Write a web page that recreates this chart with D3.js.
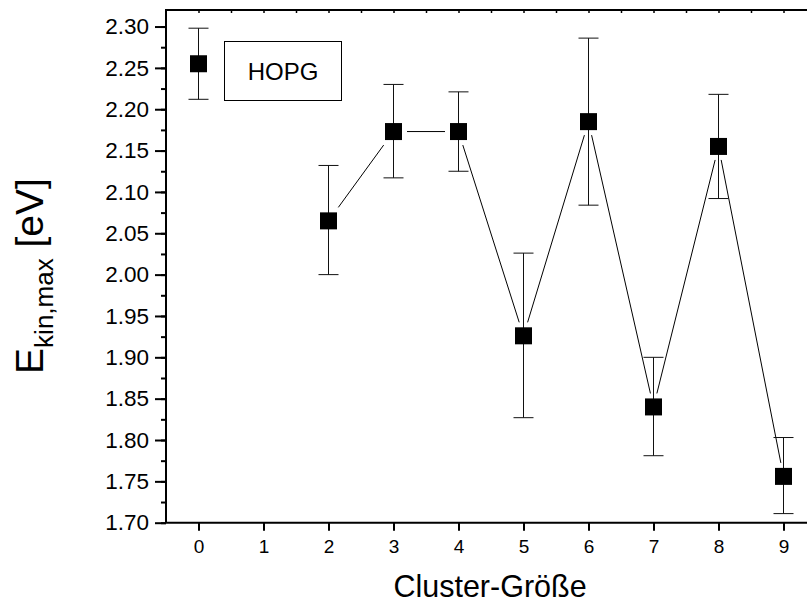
<!DOCTYPE html>
<html><head><meta charset="utf-8">
<script src="https://cdn.jsdelivr.net/npm/d3@7"></script>
<style>body{margin:0;background:#fff}svg{display:block}text{font-family:"Liberation Sans",Arial,sans-serif;fill:#000}</style>
</head><body><svg id="c" width="807" height="604"></svg>
<script>
const clusterSize = [0, 2, 3, 4, 5, 6, 7, 8, 9];
const ekinMax     = [2.255, 2.065, 2.173, 2.173, 1.926, 2.185, 1.840, 2.155, 1.756];
const errUpper    = [2.298, 2.132, 2.230, 2.221, 2.026, 2.286, 1.900, 2.218, 1.803];
const errLower    = [2.212, 2.000, 2.117, 2.125, 1.827, 2.084, 1.781, 2.092, 1.711];
const xTicks = [0,1,2,3,4,5,6,7,8,9];
const yTicks = [1.70,1.75,1.80,1.85,1.90,1.95,2.00,2.05,2.10,2.15,2.20,2.25,2.30];
const legendLabel = "HOPG";

const svg = d3.select("#c");
const L = 166, T = 10, B = 522.7;
const x = d3.scaleLinear().domain([-0.5, 9.5]).range([L, L + 650]);
const y = d3.scaleLinear().domain([1.70, 2.32]).range([B, T]);
const R = x(9.5);

// left axis
const minorY = d3.range(0, 25).map(i => 1.70 + i*0.025).filter(v => v <= 2.32);
svg.append("g").attr("transform", `translate(${L},0)`)
  .call(d3.axisLeft(y).tickValues(minorY).tickSize(5).tickFormat(""))
  .call(g => g.select(".domain").remove())
  .call(g => g.selectAll("line").attr("stroke-width", 2));
const gy = svg.append("g").attr("transform", `translate(${L},0)`)
  .call(d3.axisLeft(y).tickValues(yTicks).tickSize(11).tickPadding(6).tickFormat(d3.format(".2f")))
  .call(g => g.select(".domain").remove())
  .call(g => g.selectAll("line").attr("stroke-width", 2));
gy.selectAll("text").attr("font-size", 22.5).attr("fill", "#000")
  .attr("font-family", '"Liberation Sans",Arial,sans-serif');

// bottom axis
const gx = svg.append("g").attr("transform", `translate(0,${B})`)
  .call(d3.axisBottom(x).tickValues(xTicks).tickSize(8).tickPadding(9).tickFormat(d3.format("d")))
  .call(g => g.select(".domain").remove())
  .call(g => g.selectAll("line").attr("stroke-width", 2));
gx.selectAll("text").attr("font-size", 19).attr("fill", "#000")
  .attr("font-family", '"Liberation Sans",Arial,sans-serif');

// top axis minor ticks (inward)
const topTicks = d3.range(0, 20).map(i => i*0.5);
svg.append("g").attr("transform", `translate(0,${T})`)
  .call(d3.axisBottom(x).tickValues(topTicks).tickSize(3).tickFormat(""))
  .call(g => g.select(".domain").remove())
  .call(g => g.selectAll("line").attr("stroke-width", 1.5));

// frame
svg.append("path")
  .attr("d", `M${R},${T}H${L}V${B}H${R}`)
  .attr("fill", "none").attr("stroke", "#000").attr("stroke-width", 2);

// data
const pts = clusterSize.map((c, i) => ({c, v: ekinMax[i], hi: errUpper[i], lo: errLower[i]}));
const linePts = pts.filter(d => d.c >= 2);
svg.append("path").datum(linePts)
  .attr("d", d3.line().x(d => x(d.c)).y(d => y(d.v)))
  .attr("fill", "none").attr("stroke", "#000").attr("stroke-width", 1);

const S = 17, H = 27;
svg.append("g").selectAll("rect").data(linePts).join("rect")
  .attr("x", d => x(d.c) - H/2).attr("y", d => y(d.v) - H/2)
  .attr("width", H).attr("height", H).attr("fill", "#fff");

const eb = svg.append("g").attr("stroke", "#111").attr("stroke-width", 1);
eb.selectAll(".v").data(pts).join("line")
  .attr("x1", d => x(d.c)).attr("x2", d => x(d.c))
  .attr("y1", d => y(d.hi)).attr("y2", d => y(d.lo));
eb.selectAll(".t").data(pts).join("line")
  .attr("x1", d => x(d.c) - 10).attr("x2", d => x(d.c) + 10)
  .attr("y1", d => y(d.hi)).attr("y2", d => y(d.hi));
eb.selectAll(".b").data(pts).join("line")
  .attr("x1", d => x(d.c) - 10).attr("x2", d => x(d.c) + 10)
  .attr("y1", d => y(d.lo)).attr("y2", d => y(d.lo));

svg.append("g").selectAll("rect").data(pts).join("rect")
  .attr("x", d => x(d.c) - S/2).attr("y", d => y(d.v) - S/2)
  .attr("width", S).attr("height", S).attr("fill", "#000");

// legend box
svg.append("rect").attr("x", 224.5).attr("y", 41.5).attr("width", 117).attr("height", 59)
  .attr("fill", "#fff").attr("stroke", "#000").attr("stroke-width", 1);
svg.append("text").attr("x", 283).attr("y", 80).attr("text-anchor", "middle")
  .attr("font-size", 24).text(legendLabel);

// axis titles
svg.append("text").attr("x", 490).attr("y", 597).attr("text-anchor", "middle")
  .attr("font-size", 30.5).text("Cluster-Größe");

const yt = svg.append("text").attr("transform", "translate(43,276) rotate(-90)")
  .attr("text-anchor", "middle").attr("font-size", 39);
yt.append("tspan").text("E");
yt.append("tspan").attr("font-size", 26).attr("dy", 10).text("kin,max");
yt.append("tspan").attr("dy", -10).text(" [eV]");
</script></body></html>
